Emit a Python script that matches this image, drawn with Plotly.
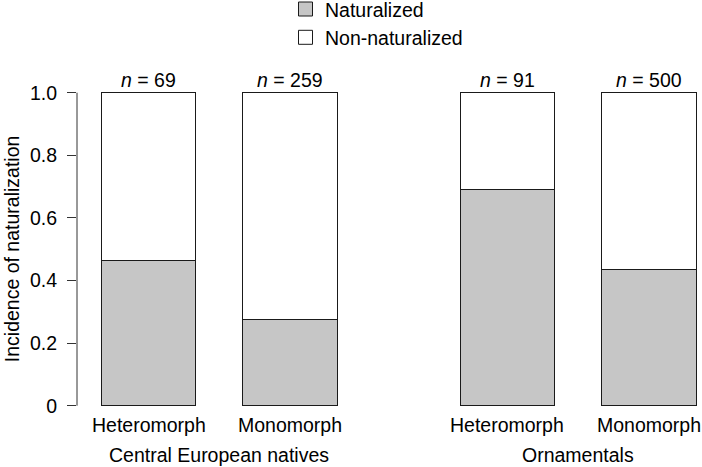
import plotly.graph_objects as go

# ---- data ----
groups = ["Central European natives", "Ornamentals"]
categories = ["Heteromorph", "Monomorph", "Heteromorph", "Monomorph"]
group_of_bar = [0, 0, 1, 1]
n_values = [69, 259, 91, 500]
naturalized = [0.464, 0.274, 0.692, 0.436]
non_naturalized = [1 - v for v in naturalized]
series_names = ["Naturalized", "Non-naturalized"]
y_ticks = [0, 0.2, 0.4, 0.6, 0.8, 1.0]
y_ticktext = ["0", "0.2", "0.4", "0.6", "0.8", "1.0"]

# bar positions (R barplot style: width 1, space 0.5 within, 1.3 between groups)
x_pos = [1.0, 2.5, 4.8, 6.3]

FONT = "Liberation Sans, Arial, Helvetica, sans-serif"
FS = 19.5
GREY = "#c6c6c6"
EDGE = "#1a1a1a"
FILLS = [GREY, "white"]

W, H = 702, 467
ML, MR, MT, MB = 77, 2, 86, 57
PW, PH = W - ML - MR, H - MT - MB


def px_to_paper(px, py):
    return (px - ML) / PW, (H - MB - py) / PH


fig = go.Figure()
for name, vals, fill in zip(series_names, [naturalized, non_naturalized], FILLS):
    fig.add_trace(go.Bar(
        x=x_pos, y=vals, width=1.0, name=name,
        marker=dict(color=fill, line=dict(color=EDGE, width=1)),
        showlegend=False,
    ))

annotations = []
for xp, n in zip(x_pos, n_values):
    annotations.append(dict(x=xp, y=1, xref="x", yref="y", yanchor="middle",
                            yshift=13, text=f"<i>n</i> = {n}", showarrow=False,
                            font=dict(family=FONT, size=FS, color="black")))
for xp, c in zip(x_pos, categories):
    annotations.append(dict(x=xp, y=0, xref="x", yref="y", yanchor="middle",
                            yshift=-19.5, text=c, showarrow=False,
                            font=dict(family=FONT, size=FS, color="black")))
for gi, g in enumerate(groups):
    xs = [x_pos[i] for i in range(len(x_pos)) if group_of_bar[i] == gi]
    annotations.append(dict(x=sum(xs) / len(xs), y=0, xref="x", yref="y",
                            yanchor="middle", yshift=-49.5, text=g,
                            showarrow=False,
                            font=dict(family=FONT, size=FS, color="black")))
annotations.append(dict(x=px_to_paper(12, 0)[0], y=0.5, xref="paper", yref="y",
                        xanchor="center", yanchor="middle", textangle=-90,
                        text="Incidence of naturalization", showarrow=False,
                        font=dict(family=FONT, size=FS, color="black")))

shapes = [dict(type="line", xref="paper", yref="y", x0=0, x1=0, y0=0, y1=1,
               line=dict(color="#333", width=1))]

# manual legend (outside the plot area, top centre)
leg_rows_py = [9.0, 37.3]
sq_cx, sq_half = 305.5, 7
txt_left = 323
for name, fill, py in zip(series_names, FILLS, leg_rows_py):
    x0, y0 = px_to_paper(sq_cx - sq_half, py + sq_half)
    x1, y1 = px_to_paper(sq_cx + sq_half, py - sq_half)
    shapes.append(dict(type="rect", xref="paper", yref="paper",
                       x0=x0, x1=x1, y0=y0, y1=y1, fillcolor=fill,
                       line=dict(color=EDGE, width=1)))
    tx, ty = px_to_paper(txt_left, py + 1)
    annotations.append(dict(x=tx, y=ty, xref="paper", yref="paper",
                            xanchor="left", yanchor="middle", text=name,
                            showarrow=False,
                            font=dict(family=FONT, size=FS, color="black")))

fig.update_layout(
    width=W, height=H,
    margin=dict(l=ML, r=MR, t=MT, b=MB, autoexpand=False),
    barmode="stack",
    plot_bgcolor="white", paper_bgcolor="white",
    font=dict(family=FONT, size=FS, color="black"),
    bargap=0,
    showlegend=False,
    hovermode=False,
    xaxis=dict(range=[0.243, 6.838], showticklabels=False, ticks="",
               showgrid=False, zeroline=False, showline=False),
    yaxis=dict(range=[-0.0137, 1.0214], tickvals=y_ticks, ticktext=y_ticktext,
               ticks="outside", ticklen=9, tickwidth=1, tickcolor="#333",
               showgrid=False, zeroline=False, showline=False,
               tickfont=dict(family=FONT, size=FS, color="black"),
               ticklabelstandoff=6, automargin=False),
    annotations=annotations,
    shapes=shapes,
)

fig.write_html(
    "out.html",
    config={"displayModeBar": False, "staticPlot": True},
    post_script="document.body.style.margin='0';document.body.style.overflow='hidden';",
)
